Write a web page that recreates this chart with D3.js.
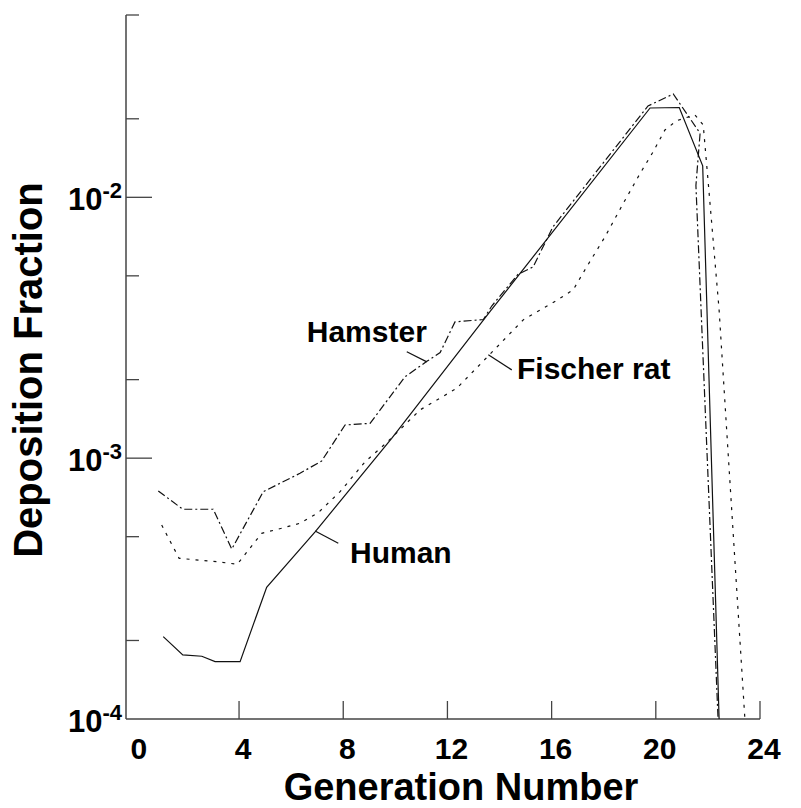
<!DOCTYPE html>
<html>
<head>
<meta charset="utf-8">
<script src="https://cdn.jsdelivr.net/npm/d3@7"></script>
<style>
  body { margin: 0; background: #fff; }
  text { font-family: "Liberation Sans", Arial, sans-serif; font-weight: bold; fill: #000; }
</style>
</head>
<body>
<div id="chart"></div>
<script>
// generation numbers and deposition fractions
const humanGen  = [1.09, 1.84, 2.57, 3.08, 4.04, 5.06, 6.92, 9.86, 13.64, 19.78, 20.90, 21.80, 22.43];
const humanFrac = [2.07e-4, 1.76e-4, 1.74e-4, 1.66e-4, 1.66e-4, 3.2e-4, 5.22e-4, 1.19e-3, 3.65e-3, 0.0220, 0.0221, 0.0132, 1e-4];

const hamsterGen  = [0.90, 1.84, 3.01, 3.72, 4.93, 6.34, 7.17, 8.07, 9.03, 10.37, 11.21, 11.72, 12.29, 13.38, 13.70, 14.71, 15.29, 16.05, 19.70, 20.67, 21.70, 21.54, 22.39];
const hamsterFrac = [7.48e-4, 6.37e-4, 6.37e-4, 4.48e-4, 7.44e-4, 8.75e-4, 9.75e-4, 1.34e-3, 1.36e-3, 2.05e-3, 2.35e-3, 2.54e-3, 3.33e-3, 3.40e-3, 3.83e-3, 5.07e-3, 5.41e-3, 7.70e-3, 0.0224, 0.0249, 0.0176, 0.0111, 1e-4];

const fischerGen  = [1.03, 1.70, 3.14, 3.93, 4.87, 5.77, 6.34, 7.04, 7.88, 8.84, 9.67, 10.95, 12.36, 13.57, 14.91, 16.17, 16.83, 17.35, 18.05, 18.75, 19.40, 19.90, 20.35, 20.80, 21.50, 21.82, 22.02, 22.43, 23.42];
const fischerFrac = [5.54e-4, 4.13e-4, 4.01e-4, 3.92e-4, 5.15e-4, 5.43e-4, 5.63e-4, 6.18e-4, 7.44e-4, 9.69e-4, 1.148e-3, 1.531e-3, 1.854e-3, 2.466e-3, 3.39e-3, 4.01e-3, 4.42e-3, 5.42e-3, 7.06e-3, 9.48e-3, 0.01236, 0.01496, 0.01812, 0.01968, 0.0207, 0.01896, 0.01116, 3.70e-3, 1e-4];

const xTicks = [4, 8, 12, 16, 20, 24];
const xLabels = [0, 4, 8, 12, 16, 20, 24];
const yMajor = [1e-4, 1e-3, 1e-2];
const yMinor = [2e-4, 5e-4, 2e-3, 5e-3, 2e-2, 5e-2];

// series labels: text anchor point and leader line, in data units
const seriesNames = ["Hamster", "Fischer rat", "Human"];
const labelAt   = [[6.60, 2.79e-3], [14.67, 2.01e-3], [8.26, 3.95e-4]];
const leaderFrom = [[10.44, 2.56e-3], [13.57, 2.49e-3], [6.92, 5.26e-4]];
const leaderTo   = [[11.21, 2.34e-3], [14.47, 2.18e-3], [7.81, 4.72e-4]];

(function chart(){
    let width = 801,
    height = 808,
    margin = ({top: 15, right: 41, bottom: 89, left: 126});

    const svg = d3.select("#chart")
    .append("svg")
    .attr("width", width)
    .attr("height", height);

    let x = d3.scaleLinear()
        .domain([-0.34, 24])
        .range([margin.left, width - margin.right]);

    let y = d3.scaleLog()
        .domain([1e-4, 5e-2])
        .range([height - margin.bottom, margin.top]);

    const axisColor = "#444";

    // axes lines
    svg.append("line")
    .attr("x1", x.range()[0]).attr("x2", x.range()[1])
    .attr("y1", y(1e-4)).attr("y2", y(1e-4))
    .attr("stroke", axisColor).attr("stroke-width", 1.5);

    svg.append("line")
    .attr("x1", margin.left).attr("x2", margin.left)
    .attr("y1", y.range()[0]).attr("y2", y.range()[1])
    .attr("stroke", axisColor).attr("stroke-width", 1.5);

    // x ticks point up
    svg.selectAll("line.xtick")
    .data(xTicks)
    .join("line")
    .classed("xtick", true)
    .attr("x1", d => x(d)).attr("x2", d => x(d))
    .attr("y1", y(1e-4)).attr("y2", y(1e-4) - 18)
    .attr("stroke", axisColor).attr("stroke-width", 1.3);

    svg.selectAll("text.xlabel")
    .data(xLabels)
    .join("text")
    .classed("xlabel", true)
    .attr("x", d => x(d) + 4)
    .attr("y", y(1e-4) + 40)
    .attr("text-anchor", "middle")
    .style("font-size", "30px")
    .text(d => d);

    // y ticks point right
    svg.selectAll("line.ymajor")
    .data(yMajor.slice(1))
    .join("line")
    .classed("ymajor", true)
    .attr("x1", margin.left).attr("x2", margin.left + 26)
    .attr("y1", d => y(d)).attr("y2", d => y(d))
    .attr("stroke", axisColor).attr("stroke-width", 1.3);

    svg.selectAll("line.yminor")
    .data(yMinor)
    .join("line")
    .classed("yminor", true)
    .attr("x1", margin.left).attr("x2", margin.left + 13)
    .attr("y1", d => y(d)).attr("y2", d => y(d))
    .attr("stroke", axisColor).attr("stroke-width", 1.3);

    let ylab = svg.selectAll("text.ylabel")
    .data(yMajor)
    .join("text")
    .classed("ylabel", true)
    .attr("x", margin.left - 4)
    .attr("y", d => y(d) + 13)
    .attr("text-anchor", "end")
    .style("font-size", "31px");
    ylab.append("tspan").text("10");
    ylab.append("tspan")
    .attr("dy", -12)
    .style("font-size", "22px")
    .text(d => Math.round(Math.log10(d)));

    // axis titles
    svg.append("text")
    .attr("x", 461)
    .attr("y", 800)
    .attr("text-anchor", "middle")
    .style("font-size", "38px")
    .text("Generation Number");

    svg.append("text")
    .attr("transform", "translate(42,370) rotate(-90)")
    .attr("text-anchor", "middle")
    .style("font-size", "40px")
    .text("Deposition Fraction");

    // series
    const line = d3.line()
        .x(d => x(d[0]))
        .y(d => y(d[1]));

    const series = [
        {gen: hamsterGen, frac: hamsterFrac, dash: "8,3,2,3"},
        {gen: fischerGen, frac: fischerFrac, dash: "3,6"},
        {gen: humanGen, frac: humanFrac, dash: null}
    ];

    svg.selectAll("path.series")
    .data(series)
    .join("path")
    .classed("series", true)
    .attr("d", s => line(s.gen.map((g, i) => [g, s.frac[i]])))
    .attr("fill", "none")
    .attr("stroke", "#111")
    .attr("stroke-width", 1.2)
    .attr("stroke-dasharray", s => s.dash);

    // labels with leader lines
    svg.selectAll("line.leader")
    .data(seriesNames)
    .join("line")
    .classed("leader", true)
    .attr("x1", (d, i) => x(leaderFrom[i][0]))
    .attr("y1", (d, i) => y(leaderFrom[i][1]))
    .attr("x2", (d, i) => x(leaderTo[i][0]))
    .attr("y2", (d, i) => y(leaderTo[i][1]))
    .attr("stroke", "#111")
    .attr("stroke-width", 1.2);

    svg.selectAll("text.name")
    .data(seriesNames)
    .join("text")
    .classed("name", true)
    .attr("x", (d, i) => x(labelAt[i][0]))
    .attr("y", (d, i) => y(labelAt[i][1]))
    .style("font-size", "30px")
    .text(d => d);

    return svg.node();
})();
</script>
</body>
</html>
